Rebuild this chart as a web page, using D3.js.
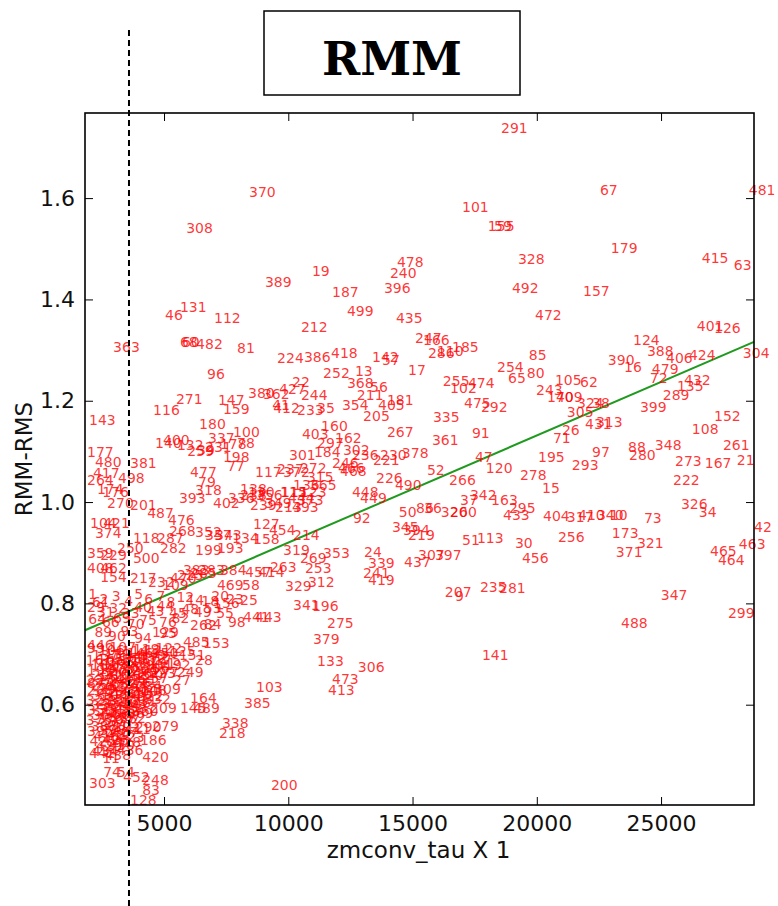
<!DOCTYPE html>
<html>
<head>
<meta charset="utf-8">
<script src="https://cdn.jsdelivr.net/npm/d3@7"></script>
<style>
  html, body { margin: 0; padding: 0; background: #ffffff; }
  svg { display: block; }
</style>
</head>
<body>
<svg id="chart" width="778" height="906"></svg>
<script>
// ---------------- data ----------------
const titleText = "RMM";
const xLabel = "zmconv_tau X 1";
const yLabel = "RMM-RMS";
const xTicks = [5000, 10000, 15000, 20000, 25000];
const yTicks = [0.6, 0.8, 1.0, 1.2, 1.4, 1.6];
const xDomain = [1820, 28740];
const yDomain = [0.402, 1.768];
const cutoffTau = 3590;
const fitIntercept = 0.7085;
const fitSlope = 2.114e-5;

// [run id, zmconv_tau, RMM-RMS]
const upperPoints = [
["291",18560,1.728],["101",16990,1.572],["155",18030,1.535],["59",18280,1.535],["478",14370,1.464],
["240",14090,1.442],["396",13850,1.413],["19",10950,1.446],["187",11760,1.405],["328",19240,1.470],
["492",19000,1.413],["499",12360,1.367],["67",22540,1.606],["481",28530,1.606],["179",22980,1.492],
["415",26640,1.472],["63",27930,1.458],["157",21860,1.407],["472",19930,1.359],["308",5890,1.531],
["370",8420,1.602],["389",9060,1.424],["46",5040,1.359],["131",5640,1.375],["112",7010,1.353],
["212",10510,1.336],["435",14330,1.353],["247",15100,1.314],["166",15420,1.310],["401",26440,1.338],
["126",27130,1.334],["124",23870,1.310]
];

const midUpperPoints = [
["363",2950,1.296],["68",5640,1.306],["60",5720,1.306],["482",6290,1.302],["81",7940,1.294],
["224",9550,1.274],["386",10630,1.276],["96",6730,1.243],["271",5480,1.194],["116",4560,1.172],
["147",7170,1.192],["159",7370,1.174],["380",8380,1.205],["362",8980,1.203],["427",9630,1.213],
["22",10150,1.227],["244",10510,1.201],["412",9390,1.176],["41",9350,1.182],["233",10350,1.172],
["35",11160,1.176],["143",1980,1.152],["180",6410,1.144],["100",7780,1.128],["403",10550,1.124],
["140",4640,1.107],["400",4960,1.113],["337",6770,1.117],["132",5520,1.103],["259",5930,1.091],
["39",6330,1.093],["231",6650,1.099],["178",7250,1.105],["78",7940,1.107],
["286",15620,1.284],["110",15980,1.288],["185",16590,1.296],["418",11720,1.284],["142",13370,1.276],
["57",13770,1.270],["252",11400,1.245],["13",12680,1.249],["368",12360,1.225],["56",13290,1.217],
["211",12760,1.201],["181",13970,1.192],["405",13610,1.182],["354",12160,1.182],["17",14820,1.251],
["205",13010,1.160],["335",15820,1.158],["267",13970,1.128],["160",11320,1.140],["162",11880,1.117],
["361",15780,1.113],["91",17390,1.126],["297",11160,1.107],["255",16220,1.229],["102",16510,1.215],
["474",17230,1.225],["475",17070,1.186],["292",17750,1.178],["254",18400,1.257],["85",19680,1.280],
["65",18840,1.235],["80",19600,1.245],
["243",19970,1.211],["105",20730,1.231],["62",21740,1.227],["170",20410,1.197],["409",20770,1.197],
["305",21210,1.168],["324",21620,1.186],["38",22220,1.186],["431",21940,1.144],["313",22380,1.148],
["26",21010,1.132],["71",20650,1.116],["390",22860,1.270],["16",23510,1.257],["388",24430,1.288],
["406",25200,1.274],["424",26120,1.280],["479",24630,1.253],["72",24550,1.235],["432",25920,1.231],
["135",25640,1.219],["289",25070,1.201],["399",24150,1.178],["304",28290,1.284],["152",27130,1.160],
["108",26240,1.134]
];

const midPoints = [
["198",7370,1.079],["77",7530,1.061],["177",1900,1.089],["480",2220,1.069],["381",3630,1.067],
["417",2140,1.047],["498",3150,1.038],["264",1900,1.034],["477",6050,1.049],["79",6370,1.030],
["117",8660,1.049],["237",9550,1.055],["372",9790,1.049],["301",10030,1.083],["272",10470,1.057],
["136",10190,1.024],["138",8060,1.016],["111",9710,1.010],["174",2300,1.016],["176",2510,1.010],
["270",2710,0.988],["201",3630,0.984],["393",5600,0.998],["318",6250,1.014],["402",6970,0.988],
["336",7570,0.998],["238",8060,1.004],["130",8380,1.010],["356",8700,1.004],["115",9670,1.010],
["444",9990,0.998],["349",9060,0.988],["239",8460,0.984],["123",10470,1.010],["213",9470,0.980],
["493",10150,0.980],["373",10350,0.994],["487",4320,0.968],["476",5160,0.955],["268",5200,0.933],
["104",2020,0.949],["421",2550,0.949],["374",2220,0.929],
["184",11030,1.089],["302",12200,1.093],["236",12560,1.083],["230",13690,1.083],["221",13410,1.073],
["378",14570,1.087],["246",11760,1.067],["466",12000,1.057],["468",12080,1.051],["47",17510,1.079],
["120",17950,1.057],["52",15580,1.053],["226",13530,1.038],["490",14290,1.024],["266",16470,1.034],
["278",19320,1.044],["448",12560,1.010],["449",12890,0.998],["315",10750,1.040],["365",10870,1.024],
["195",20050,1.079],["97",22220,1.089],["293",21410,1.063],["15",20210,1.018],["88",23670,1.099],
["280",23710,1.083],["348",24750,1.103],["261",27490,1.103],["273",25560,1.071],["167",26760,1.067],
["21",28050,1.073],["222",25480,1.034],["326",25800,0.986],["34",26520,0.970],["73",24310,0.959],
["404",20250,0.963],["317",21210,0.961],["410",21660,0.965],["340",22420,0.965],["10",22940,0.965],
["50",14450,0.970],["86",15140,0.978],["36",15460,0.978],["320",16140,0.970],["260",16510,0.970],
["37",16910,0.994],["342",17310,1.004],["163",18160,0.994],["433",18640,0.965],["295",18880,0.978],
["92",12600,0.959],["127",8580,0.947]
];

const lowerPoints = [
["42",28740,0.941],["463",28130,0.907],["465",26970,0.893],["464",27290,0.876],["173",23020,0.929],
["321",24030,0.909],["371",23180,0.892],["256",20850,0.921],["456",19400,0.880],["347",24990,0.807],
["299",27690,0.771],["488",23390,0.751],
["345",14170,0.941],["219",14820,0.925],["394",14620,0.935],["51",16990,0.915],["113",17590,0.919],
["30",19120,0.909],["353",11400,0.889],["24",13050,0.891],["339",13210,0.870],["437",14660,0.872],
["307",15220,0.886],["397",15900,0.886],["269",10470,0.880],["253",10670,0.860],["312",10790,0.832],
["241",13010,0.850],["419",13210,0.836],["341",10190,0.787],["196",10950,0.785],["275",11560,0.751],
["379",10990,0.720],["133",11160,0.676],["306",12800,0.664],["473",11760,0.641],["413",11600,0.619],
["207",16300,0.812],["9",16710,0.805],["235",17710,0.822],["281",18480,0.820],["141",17790,0.688],
["329",9870,0.824],["319",9790,0.895],["214",10190,0.925],["454",9220,0.935],["158",8580,0.917],
["469",7130,0.826],["58",8140,0.826],["25",8060,0.797],
["118",3750,0.919],["287",4720,0.919],["282",4840,0.899],["352",6250,0.931],["357",6650,0.925],
["343",7050,0.925],["134",7740,0.919],["199",6250,0.895],["193",7130,0.899],["250",3110,0.899],
["500",3750,0.880],["359",1900,0.889],["229",2430,0.886],["408",1900,0.860],["462",2430,0.860],
["154",2430,0.842],["217",3630,0.840],["470",5240,0.840],["285",6050,0.850],["383",5760,0.856],
["283",6370,0.856],["384",7250,0.856],["457",8260,0.852],["414",8780,0.852],["263",9260,0.862],
["232",4360,0.832],["109",4920,0.826],["225",5520,0.846],["61",2100,0.793],["156",6970,0.791],
["441",8180,0.763],["443",8660,0.763],["98",7570,0.753],["262",6050,0.747],["129",4520,0.734],
["485",5760,0.714],["153",6570,0.712],["28",6250,0.678],["249",5520,0.655],["27",5360,0.639],
["277",4520,0.655],["103",8700,0.625],["385",8220,0.593],["164",6050,0.603],["145",5640,0.584],
["489",6170,0.584],["209",4440,0.584],["148",4030,0.619],["338",7330,0.554],["218",7210,0.534],
["279",4520,0.548],["290",3830,0.546],["186",4030,0.520],["420",4120,0.487],["11",2510,0.485],
["74",2550,0.457],["54",3110,0.457],["452",3350,0.447],["248",4120,0.441],["83",4120,0.422],
["303",1980,0.435],["128",3630,0.402],["200",9300,0.432],["442",1980,0.495],["446",1900,0.708],
["87",1900,0.633]
];

// dense cluster near the cutoff (labels overlap and cannot be read individually)
const clusterIds = ["1","2","3","4","5","6","7","8","12","14","18","20","23","29","31","32","33","40","43","44",
"45","48","49","53","55","64","66","69","70","75","76","82","84","89","90","93","94","95","99","106",
"107","114","119","121","122","125","137","139","144","146","149","150","151","161","165","168","169","171","172","175",
"182","183","188","189","190","191","192","194","197","202","203","204","206","208","210","215","216","220","223","227",
"234","242","245","251","257","258","265","274","276","284","288","294","296","298","300","309","310","311","314","316",
"322","323","325","327","330","331","332","333","334","344","346","350","351","355","358","360","364","366","367","369",
"375","376","377","382","387","391","392","395","398","407","411","416","422","423","425","426","428","429","430","434",
"436","438","439","440","445","447","450","451","453","455","458","459","460","461","467","471","483","484","486","491"];
const clusterTau = [
1950,2400,2900,3400,3800,4200,4700,5100,5500,5900,6500,6900,7500,
1900,2300,2800,3300,3800,4300,4700,5200,5700,6200,6600,7100,
1950,2500,2950,3500,4000,4800,5300,6600,
2200,2750,3250,3800,4800,
1900,2350,2800,3300,3750,4200,4650,5200,
2100,2600,3050,3500,4000,4500,5600,
1850,2300,2750,3200,3650,4100,4600,
2050,2500,2950,3400,3900,4400,5000,
1900,2350,2800,3250,3700,4150,
2100,2550,3000,3450,3900,4400,
1850,2300,2750,3200,3650,4100,
2050,2500,2950,3400,3850,
1900,2350,2800,3250,3700,4600,
2100,2550,3000,3450,3900,
1850,2300,2750,3200,3650,4200,
2050,2500,2950,3400,
1900,2350,2800,3250,3700,
2100,2550,3000,3500,
1850,2300,2750,3200,
2050,2500,2950,
1900,2400,2900,3400,
2150,2650,3150,
2000,2500,3000,
2250,2750,
2100,3100,
2600];
const clusterRms = [
0.809,0.799,0.805,0.795,0.809,0.799,0.805,0.793,0.803,0.797,0.795,0.805,0.799,
0.783,0.773,0.781,0.771,0.783,0.775,0.785,0.771,0.779,0.773,0.781,0.771,
0.759,0.753,0.761,0.749,0.757,0.753,0.761,0.749,
0.733,0.725,0.735,0.721,0.731,
0.702,0.698,0.704,0.696,0.701,0.699,0.703,0.697,
0.689,0.691,0.687,0.693,0.688,0.692,0.689,
0.679,0.681,0.677,0.683,0.678,0.682,0.679,
0.669,0.671,0.667,0.673,0.668,0.672,0.669,
0.659,0.661,0.657,0.663,0.658,0.662,
0.649,0.651,0.647,0.653,0.648,0.652,
0.639,0.641,0.637,0.643,0.638,0.642,
0.629,0.631,0.627,0.633,0.628,
0.619,0.621,0.617,0.623,0.618,0.622,
0.609,0.611,0.607,0.613,0.608,
0.599,0.601,0.597,0.603,0.598,0.602,
0.589,0.591,0.587,0.593,
0.579,0.581,0.577,0.583,0.578,
0.569,0.571,0.567,0.573,
0.559,0.561,0.557,0.563,
0.549,0.551,0.547,
0.539,0.541,0.537,0.543,
0.529,0.531,0.527,
0.519,0.521,0.517,
0.509,0.511,
0.499,0.501,
0.491];

// ---------------- drawing ----------------
const svg = d3.select("#chart");
svg.append("rect").attr("width", 778).attr("height", 906).attr("fill", "#ffffff");

const plot = { left: 85, right: 754, top: 113, bottom: 805 };
const x = d3.scaleLinear().domain(xDomain).range([plot.left, plot.right]);
const y = d3.scaleLinear().domain(yDomain).range([plot.bottom, plot.top]);

const axisFont = "'DejaVu Sans', 'Bitstream Vera Sans', sans-serif";

// title box
svg.append("rect").attr("x", 264).attr("y", 11).attr("width", 256).attr("height", 84)
  .attr("fill", "none").attr("stroke", "#000").attr("stroke-width", 1.5);
svg.append("text").attr("x", 392).attr("y", 75).attr("text-anchor", "middle")
  .attr("font-family", "'DejaVu Serif', serif").attr("font-weight", "900")
  .attr("font-size", 46).attr("fill", "#000").text(titleText);

// regression line
const fitY = t => fitIntercept + fitSlope * t;
svg.append("line")
  .attr("x1", x(xDomain[0])).attr("y1", y(fitY(xDomain[0])))
  .attr("x2", x(xDomain[1])).attr("y2", y(fitY(xDomain[1])))
  .attr("stroke", "#1f9a1f").attr("stroke-width", 2);

// labels
const allPoints = upperPoints.concat(midUpperPoints, midPoints, lowerPoints,
  d3.zip(clusterIds, clusterTau, clusterRms));
svg.append("g")
  .attr("font-family", axisFont).attr("font-size", 14)
  .attr("fill", "#ff0000").attr("fill-opacity", 0.8)
  .selectAll("text").data(allPoints).join("text")
  .attr("x", d => x(d[1])).attr("y", d => y(d[2]))
  .text(d => d[0]);

// axes
function styleAxis(g) {
  g.select(".domain").remove();
  g.selectAll(".tick line").attr("stroke", "#000").attr("stroke-width", 1);
  g.selectAll(".tick text").attr("font-family", axisFont).attr("font-size", 22).attr("fill", "#111");
}
svg.append("g").attr("transform", `translate(0,${plot.bottom})`)
  .call(d3.axisBottom(x).tickValues(xTicks).tickSize(-8).tickPadding(10).tickFormat(d3.format("d")))
  .call(styleAxis);
svg.append("g").attr("transform", `translate(0,${plot.top})`)
  .call(d3.axisTop(x).tickValues(xTicks).tickSize(-8).tickFormat(""))
  .call(styleAxis);
svg.append("g").attr("transform", `translate(${plot.left},0)`)
  .call(d3.axisLeft(y).tickValues(yTicks).tickSize(-8).tickPadding(10).tickFormat(d3.format(".1f")))
  .call(styleAxis);
svg.append("g").attr("transform", `translate(${plot.right},0)`)
  .call(d3.axisRight(y).tickValues(yTicks).tickSize(-8).tickFormat(""))
  .call(styleAxis);

// frame
svg.append("rect").attr("x", plot.left).attr("y", plot.top)
  .attr("width", plot.right - plot.left).attr("height", plot.bottom - plot.top)
  .attr("fill", "none").attr("stroke", "#000").attr("stroke-width", 1.6);

// axis titles
svg.append("text").attr("x", (plot.left + plot.right) / 2 - 1).attr("y", 858)
  .attr("text-anchor", "middle").attr("font-family", axisFont).attr("font-size", 23)
  .attr("fill", "#111").text(xLabel);
svg.append("text").attr("transform", `translate(32,${(plot.top + plot.bottom) / 2}) rotate(-90)`)
  .attr("text-anchor", "middle").attr("font-family", axisFont).attr("font-size", 23)
  .attr("fill", "#111").text(yLabel);

// cutoff dashed line
svg.append("line")
  .attr("x1", x(cutoffTau)).attr("x2", x(cutoffTau))
  .attr("y1", 30).attr("y2", 906)
  .attr("stroke", "#000").attr("stroke-width", 2).attr("stroke-dasharray", "6,4");
</script>
</body>
</html>
